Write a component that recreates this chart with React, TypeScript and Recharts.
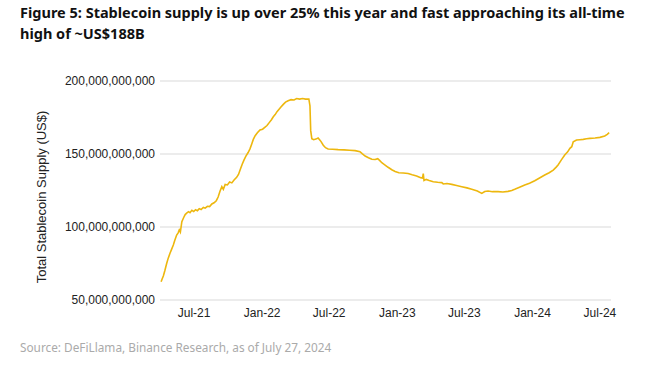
import { LineChart, Line, XAxis, YAxis, CartesianGrid } from "recharts";

// total stablecoin supply, US$ billions
const DATES = [
  "2021-04-03", "2021-04-06", "2021-04-09", "2021-04-13", "2021-04-18", "2021-04-22", "2021-04-27",
  "2021-05-01", "2021-05-06", "2021-05-10", "2021-05-15", "2021-05-19", "2021-05-22", "2021-05-25",
  "2021-05-29", "2021-06-03", "2021-06-07", "2021-06-11", "2021-06-16", "2021-06-20", "2021-06-25",
  "2021-06-30", "2021-07-05", "2021-07-10", "2021-07-15", "2021-07-20", "2021-07-26", "2021-07-31",
  "2021-08-06", "2021-08-12", "2021-08-18", "2021-08-24", "2021-08-30", "2021-09-04", "2021-09-09",
  "2021-09-14", "2021-09-18", "2021-09-23", "2021-09-29", "2021-10-05", "2021-10-11", "2021-10-17",
  "2021-10-24", "2021-10-29", "2021-11-03", "2021-11-08", "2021-11-13", "2021-11-18", "2021-11-24",
  "2021-11-29", "2021-12-04", "2021-12-08", "2021-12-13", "2021-12-19", "2021-12-26", "2022-01-02",
  "2022-01-08", "2022-01-14", "2022-01-20", "2022-01-26", "2022-01-31", "2022-02-05", "2022-02-10",
  "2022-02-15", "2022-02-20", "2022-02-27", "2022-03-05", "2022-03-12", "2022-03-20", "2022-03-28",
  "2022-04-04", "2022-04-12", "2022-04-20", "2022-04-28", "2022-05-07", "2022-05-10", "2022-05-12",
  "2022-05-15", "2022-05-20", "2022-05-26", "2022-06-01", "2022-06-05", "2022-06-09", "2022-06-15",
  "2022-06-21", "2022-06-28", "2022-07-10", "2022-07-25", "2022-08-10", "2022-08-25", "2022-09-09",
  "2022-09-22", "2022-09-28", "2022-10-06", "2022-10-15", "2022-10-24", "2022-11-02", "2022-11-09",
  "2022-11-14", "2022-11-20", "2022-11-28", "2022-12-07", "2022-12-17", "2022-12-26", "2023-01-05",
  "2023-01-17", "2023-01-30", "2023-02-10", "2023-02-22", "2023-03-05", "2023-03-10", "2023-03-12",
  "2023-03-14", "2023-03-20", "2023-03-28", "2023-04-08", "2023-04-20", "2023-05-01", "2023-05-05",
  "2023-05-15", "2023-05-28", "2023-06-10", "2023-06-24", "2023-07-08", "2023-07-21", "2023-08-05",
  "2023-08-17", "2023-08-25", "2023-09-03", "2023-09-15", "2023-09-30", "2023-10-13", "2023-10-27",
  "2023-11-06", "2023-11-14", "2023-11-27", "2023-12-11", "2023-12-24", "2024-01-07", "2024-01-20",
  "2024-02-03", "2024-02-15", "2024-02-26", "2024-03-05", "2024-03-10", "2024-03-19", "2024-03-28",
  "2024-04-05", "2024-04-11", "2024-04-16", "2024-04-20", "2024-04-29", "2024-05-08", "2024-05-17",
  "2024-05-26", "2024-06-04", "2024-06-18", "2024-07-01", "2024-07-14", "2024-07-21", "2024-07-26",
];

const SUPPLY_BN = [
  62.5, 64.5, 66.5, 70, 75, 78.5, 82,
  84.5, 87.7, 91, 94.5, 96, 98, 96.5,
  103.6, 106.5, 108.5, 109.5, 110.5, 109.8, 111.4,
  110.6, 111.8, 111.2, 112.6, 112.0, 113.4, 112.9,
  114.2, 114.0, 115.8, 116.6, 118.0, 120.5, 124.5,
  127.6, 125.8, 129.2, 128.8, 130.8, 130.2, 132.2,
  134.0, 136.0, 139.5, 143.0, 146.0, 148.5, 151.0,
  153.5, 157.0, 160.0, 162.5, 164.5, 166.5, 167.0,
  168.3, 169.5, 171.5, 173.5, 175.5, 177.0, 179.0,
  180.5, 182.0, 184.0, 185.5, 186.5, 187.2, 187.0,
  188.0, 187.6, 188.0, 187.6, 187.7, 183.0, 166.0,
  160.5, 159.8, 160.2, 161.0, 159.8, 158.5, 156.0,
  154.3, 153.4, 153.3, 153.0, 152.8, 152.6, 152.3,
  151.6, 150.2, 148.6, 147.4, 146.4, 146.2, 146.8,
  145.6, 144.0, 142.6, 140.9, 139.2, 138.0, 137.2,
  137.0, 136.6, 135.8, 135.0, 133.8, 133.5, 136.5,
  131.8, 132.6, 131.8, 131.0, 130.6, 130.4, 129.5,
  129.8, 129.2, 128.4, 127.6, 126.8, 125.8, 124.6,
  123.0, 124.3, 124.7, 124.2, 124.2, 124.0, 124.4,
  125.0, 125.8, 127.2, 128.8, 130.0, 131.7, 133.6,
  135.6, 137.2, 139.0, 141.0, 142.5, 146.0, 149.3,
  151.5, 153.9, 155.0, 158.4, 159.6, 159.8, 160.0,
  160.4, 160.7, 161.0, 161.4, 162.3, 163.4, 164.6,
];

const X_TICKS = ["2021-07-01", "2022-01-01", "2022-07-01", "2023-01-01", "2023-07-01", "2024-01-01", "2024-07-01"];
const X_DOMAIN = ["2021-03-31", "2024-07-31"];
const Y_TICKS = [50, 100, 150, 200];
const MONTHS = ["Jan", "Feb", "Mar", "Apr", "May", "Jun", "Jul", "Aug", "Sep", "Oct", "Nov", "Dec"];

const toTime = (s: string) => Date.parse(s + "T00:00:00Z");

const data = DATES.map((d, i) => ({ t: toTime(d), supply: SUPPLY_BN[i] }));

const fmtMonth = (t: number) => {
  const d = new Date(t);
  return `${MONTHS[d.getUTCMonth()]}-${String(d.getUTCFullYear()).slice(2)}`;
};

const fmtUsd = (v: number) => (v * 1e9).toLocaleString("en-US");

const tickStyle = { fontSize: 12, fill: "#222", fontFamily: "'Liberation Sans', Arial, sans-serif" };

export default function App() {
  return (
    <div style={{ position: "absolute", left: 0, top: 0, width: 656, height: 366, background: "#fff", overflow: "hidden" }}>
      <div
        style={{
          position: "absolute", left: 20, top: 2, fontFamily: "'Noto Sans', sans-serif", fontWeight: 700,
          fontSize: 14.5, lineHeight: "21px", color: "#111", whiteSpace: "nowrap",
        }}
      >
        <div>Figure 5: Stablecoin supply is up over 25% this year and fast approaching its all-time</div>
        <div>high of ~US$188B</div>
      </div>

      <LineChart width={656} height={366} data={data} margin={{ top: 81, right: 45, bottom: 36, left: 20 }}>
        <CartesianGrid horizontal vertical={false} stroke="#d9d9d9" />
        <XAxis
          dataKey="t"
          type="number"
          domain={X_DOMAIN.map(toTime)}
          ticks={X_TICKS.map(toTime)}
          tickFormatter={fmtMonth}
          axisLine={false}
          tickLine={false}
          height={30}
          tick={tickStyle}
        />
        <YAxis
          domain={[50, 200]}
          ticks={Y_TICKS}
          tickFormatter={fmtUsd}
          axisLine={false}
          tickLine={false}
          tickSize={3}
          tickMargin={2}
          width={140}
          tick={tickStyle}
        />
        <Line
          type="linear"
          dataKey="supply"
          stroke="#EDB70E"
          strokeWidth={1.6}
          dot={false}
          isAnimationActive={false}
        />
      </LineChart>

      <div
        style={{
          position: "absolute", left: 41, top: 197, transform: "translate(-50%, -50%) rotate(-90deg)",
          fontFamily: "'Liberation Sans', Arial, sans-serif", fontSize: 13, color: "#222", whiteSpace: "nowrap",
        }}
      >
        Total Stablecoin Supply (US$)
      </div>

      <div
        style={{
          position: "absolute", left: 20, top: 339, fontFamily: "'Noto Sans', sans-serif", fontSize: 11.8,
          color: "#aaa", whiteSpace: "nowrap",
        }}
      >
        Source: DeFiLlama, Binance Research, as of July 27, 2024
      </div>
    </div>
  );
}
